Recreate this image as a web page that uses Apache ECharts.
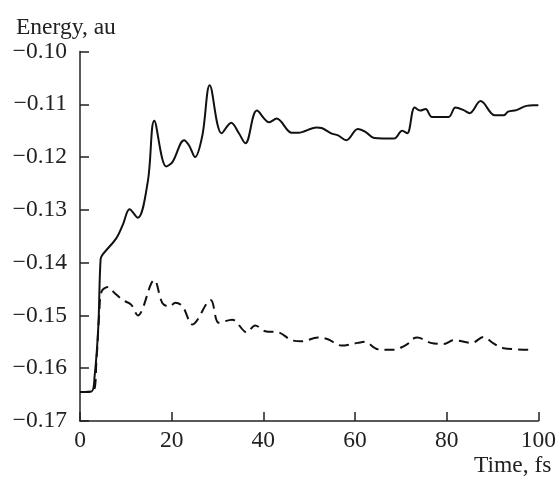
<!DOCTYPE html>
<html><head><meta charset="utf-8">
<script src="https://cdn.jsdelivr.net/npm/echarts@6/dist/echarts.min.js"></script>
<style>html,body{margin:0;padding:0;background:#fff}#c{width:559px;height:478px}</style>
</head><body><div id="c"></div>
<script>
const yTicks = [-0.17, -0.16, -0.15, -0.14, -0.13, -0.12, -0.11, -0.10];
const xTicks = [0, 20, 40, 60, 80, 100];
const solidTime = [0, 2.5, 3.2, 4, 4.5, 5, 7.9, 9.4, 10.8, 12.6, 14.8, 16.2, 18.8, 20.2, 22.7, 23.8, 25.1, 26.7, 28.3, 30.9, 33.0, 34.6, 36.1, 38.6, 41.3, 42.9, 46.2, 47.6, 51.6, 52.7, 54.8, 56.3, 58.1, 60.6, 62.4, 64.2, 68.5, 70.3, 71.4, 73.0, 74.2, 75.4, 76.8, 80.4, 81.9, 83.7, 85.0, 87.4, 90.5, 92.4, 93.4, 95.2, 97.4, 99, 100];
const solidEnergy = [-0.1645, -0.1644, -0.1614, -0.152, -0.1393, -0.1384, -0.1354, -0.1327, -0.1299, -0.1315, -0.1246, -0.1131, -0.1218, -0.1209, -0.1168, -0.1178, -0.1200, -0.1159, -0.1064, -0.1155, -0.1135, -0.1154, -0.1174, -0.1112, -0.1134, -0.1127, -0.1154, -0.1154, -0.1144, -0.1145, -0.1155, -0.1159, -0.1168, -0.1147, -0.1153, -0.1164, -0.1165, -0.1150, -0.1155, -0.1106, -0.1112, -0.1109, -0.1124, -0.1124, -0.1106, -0.1111, -0.1117, -0.1094, -0.1121, -0.1121, -0.1114, -0.1111, -0.1103, -0.1102, -0.1102];
const dashTime = [0, 2.8, 3.6, 4.2, 4.7, 6.1, 7.6, 9.4, 11.2, 12.6, 16.2, 18.0, 19.5, 20.8, 22.4, 24.5, 28.5, 30.3, 33.2, 36.4, 38.2, 40.4, 43.3, 46.2, 48.3, 51.9, 54.1, 57.0, 60.6, 62.1, 65.0, 68.5, 70.7, 71.8, 72.5, 73.6, 76.5, 79.4, 81.5, 85.5, 88.0, 90.2, 92.4, 98.1];
const dashEnergy = [-0.1645, -0.1644, -0.1583, -0.1496, -0.1455, -0.1446, -0.1458, -0.1471, -0.1480, -0.1500, -0.1433, -0.1477, -0.1483, -0.1476, -0.1483, -0.1517, -0.1471, -0.1514, -0.1508, -0.1532, -0.1519, -0.1530, -0.1532, -0.1547, -0.1549, -0.1542, -0.1545, -0.1557, -0.1552, -0.1550, -0.1564, -0.1565, -0.1558, -0.1552, -0.1545, -0.1542, -0.1552, -0.1554, -0.1547, -0.1552, -0.1541, -0.1553, -0.1562, -0.1565];

const font = 'Liberation Serif';
const fs = 23.5;
const chart = echarts.init(document.getElementById('c'));
const pairs = (xs, ys) => xs.map((x, i) => [x, ys[i]]);
chart.setOption({
  animation: false,
  title: {text: 'Energy, au', left: 11, top: 11,
    textStyle: {fontFamily: font, fontSize: fs, fontWeight: 'normal', color: '#222'}},
  grid: {left: 80, right: 17, top: 51.5, bottom: 52, containLabel: false},
  xAxis: {
    type: 'value', min: xTicks[0], max: xTicks[xTicks.length - 1], interval: 20,
    name: 'Time, fs', nameLocation: 'end', nameGap: 13,
    nameTextStyle: {fontFamily: font, fontSize: fs, color: '#222', align: 'right', verticalAlign: 'top', padding: [33, 0, 0, 0]},
    axisLine: {lineStyle: {color: '#222', width: 1.5}},
    axisTick: {inside: true, length: 9, lineStyle: {color: '#222', width: 1.5}},
    splitLine: {show: false},
    axisLabel: {fontFamily: font, fontSize: fs, color: '#222', margin: 8}
  },
  yAxis: {
    type: 'value', min: yTicks[0], max: yTicks[yTicks.length - 1], interval: 0.01,
    axisLine: {show: true, lineStyle: {color: '#222', width: 1.5}},
    axisTick: {show: true, inside: true, length: 9, lineStyle: {color: '#222', width: 1.5}},
    splitLine: {show: false},
    axisLabel: {fontFamily: font, fontSize: fs, color: '#222', margin: 13,
      formatter: v => v.toFixed(2).replace('-', '\u2212')}
  },
  series: [
    {type: 'line', data: pairs(solidTime, solidEnergy), smooth: 0.35, showSymbol: false,
     lineStyle: {color: '#111', width: 2}},
    {type: 'line', data: pairs(dashTime, dashEnergy), smooth: 0.35, showSymbol: false,
     lineStyle: {color: '#111', width: 2, type: [10, 6]}}
  ]
});
</script></body></html>
